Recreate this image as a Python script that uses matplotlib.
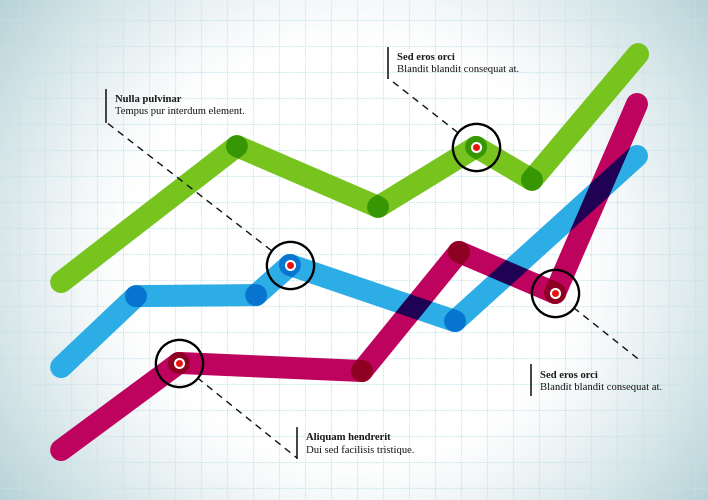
import numpy as np
import matplotlib
matplotlib.use("Agg")
import matplotlib.pyplot as plt
from matplotlib.figure import Figure
from matplotlib.backends.backend_agg import FigureCanvasAgg

W, H, DPI = 708, 500, 100
UNIT = 26.0            # pixels per grid step
X0, Y0 = 19.0, 488.0   # pixel position of grid origin
XLIM = (-X0 / UNIT, (W - X0) / UNIT)
YLIM = (-(H - Y0) / UNIT, Y0 / UNIT)
LW = 22 * 72 / DPI     # line width in points

# data (grid units)
green_x = [1.62, 8.38, 13.81, 17.58, 19.73, 23.81]
green_y = [7.92, 13.15, 10.81, 13.12, 11.85, 16.69]
blue_x = [1.62, 4.50, 9.12, 10.42, 16.77, 23.77]
blue_y = [4.65, 7.38, 7.42, 8.58, 6.42, 12.77]
magenta_x = [1.62, 6.15, 13.19, 16.92, 20.62, 23.77]
magenta_y = [1.46, 4.81, 4.50, 9.08, 7.50, 14.77]

series = [
    (green_x, green_y, "#77c41f"),
    (blue_x, blue_y, "#2cade6"),
    (magenta_x, magenta_y, "#be035e"),
]

# highlighted points: (series index, point index)
highlights = [(0, 3), (1, 3), (2, 1), (2, 4)]

ann_titles = ["Nulla pulvinar", "Sed eros orci", "Sed eros orci", "Aliquam hendrerit"]
ann_texts = ["Tempus pur interdum element.", "Blandit blandit consequat at.",
             "Blandit blandit consequat at.", "Dui sed facilisis tristique."]
# layout in pixels: bar x, bar top, bar bottom, leader end, highlight index
ann_layout = [
    (106, 90, 122, (106, 122), 1),
    (388, 48, 78, (388, 78), 0),
    (531, 365, 395, (642, 362), 3),
    (297, 428, 458, (297, 458), 2),
]


def px(x, y):
    return (x - X0) / UNIT, (Y0 - y) / UNIT


def render_segment(x, y, color):
    f = Figure(figsize=(W / DPI, H / DPI), dpi=DPI)
    FigureCanvasAgg(f)
    f.patch.set_alpha(0)
    a = f.add_axes([0, 0, 1, 1])
    a.set_xlim(XLIM)
    a.set_ylim(YLIM)
    a.axis("off")
    a.plot(x, y, color=color, lw=LW, solid_capstyle="round")
    f.canvas.draw()
    return np.asarray(f.canvas.buffer_rgba()).astype(float) / 255.0


fig = plt.figure(figsize=(W / DPI, H / DPI), dpi=DPI)
ax = fig.add_axes([0, 0, 1, 1])
ax.set_xlim(XLIM)
ax.set_ylim(YLIM)
ax.axis("off")

# background vignette
yy, xx = np.mgrid[0:H, 0:W]
nx = (xx - W / 2) / (W / 2)
ny = (yy - H / 2) / (H / 2)
r = np.sqrt(0.95 * nx ** 2 + 0.55 * ny ** 2)
t = np.clip((r - 0.62) / 0.6, 0, 1) ** 1.2
edge = np.array([184, 211, 216]) / 255.0
bg = (1 - t[..., None]) * 1.0 + t[..., None] * edge
ax.imshow(bg, extent=(XLIM[0], XLIM[1], YLIM[0], YLIM[1]), origin="upper",
          aspect="auto", zorder=0)

# dotted grid
for u in range(0, 28):
    ax.axvline(u, color="#c6e3ea", lw=0.8, ls=(0, (1, 1)), zorder=1)
for v in range(0, 19):
    ax.axhline(v, color="#c6e3ea", lw=0.8, ls=(0, (1, 1)), zorder=1)

# lines: each segment multiplied onto the others
F = np.ones((H, W, 3))
T = np.ones((H, W))
for xs, ys, color in series:
    for i in range(len(xs) - 1):
        buf = render_segment(xs[i:i + 2], ys[i:i + 2], color)
        a = buf[..., 3:4]
        F *= 1 - a + a * buf[..., :3]
        T *= 1 - buf[..., 3]
A = 1 - T
safe = np.where(A > 1e-4, A, 1)[..., None]
rgb = np.clip((F - (1 - A[..., None])) / safe, 0, 1)
layer = np.dstack([rgb, A])
ax.imshow(layer, extent=(XLIM[0], XLIM[1], YLIM[0], YLIM[1]), origin="upper",
          aspect="auto", interpolation="none", zorder=3)

# highlight rings
ring_r = 23.5 / UNIT
centres = []
for si, pi in highlights:
    cx, cy = series[si][0][pi], series[si][1][pi]
    centres.append((cx, cy))
    ax.plot(cx, cy, "o", ms=34, mfc="none", mec="black", mew=1.7, zorder=5)
    ax.plot(cx, cy, "o", ms=8, mfc="white", mec="none", zorder=5)
    ax.plot(cx, cy, "o", ms=5, mfc="#e8120f", mec="none", zorder=6)

# annotations
for title, body, (bx, btop, bbot, lend, hi) in zip(ann_titles, ann_texts, ann_layout):
    x1, y1 = px(bx, btop)
    x2, y2 = px(bx, bbot)
    ax.plot([x1, x2], [y1, y2], color="#333333", lw=1.3, zorder=6)
    ex, ey = px(*lend)
    cx, cy = centres[hi]
    d = np.hypot(ex - cx, ey - cy)
    sx, sy = cx + ring_r * (ex - cx) / d, cy + ring_r * (ey - cy) / d
    ax.plot([sx, ex], [sy, ey], color="#111111", lw=1.0, ls=(0, (5, 4)), zorder=6)
    tx, ty = px(bx + 9, btop + 10)
    ax.text(tx, ty, title, fontfamily="Liberation Serif", fontweight="bold",
            fontsize=7.7, color="#1a1a1a", va="center", ha="left", zorder=7)
    tx, ty = px(bx + 9, btop + 22)
    ax.text(tx, ty, body, fontfamily="Liberation Serif", fontsize=7.7,
            color="#1a1a1a", va="center", ha="left", zorder=7)

fig.savefig("out.png", dpi=DPI)
